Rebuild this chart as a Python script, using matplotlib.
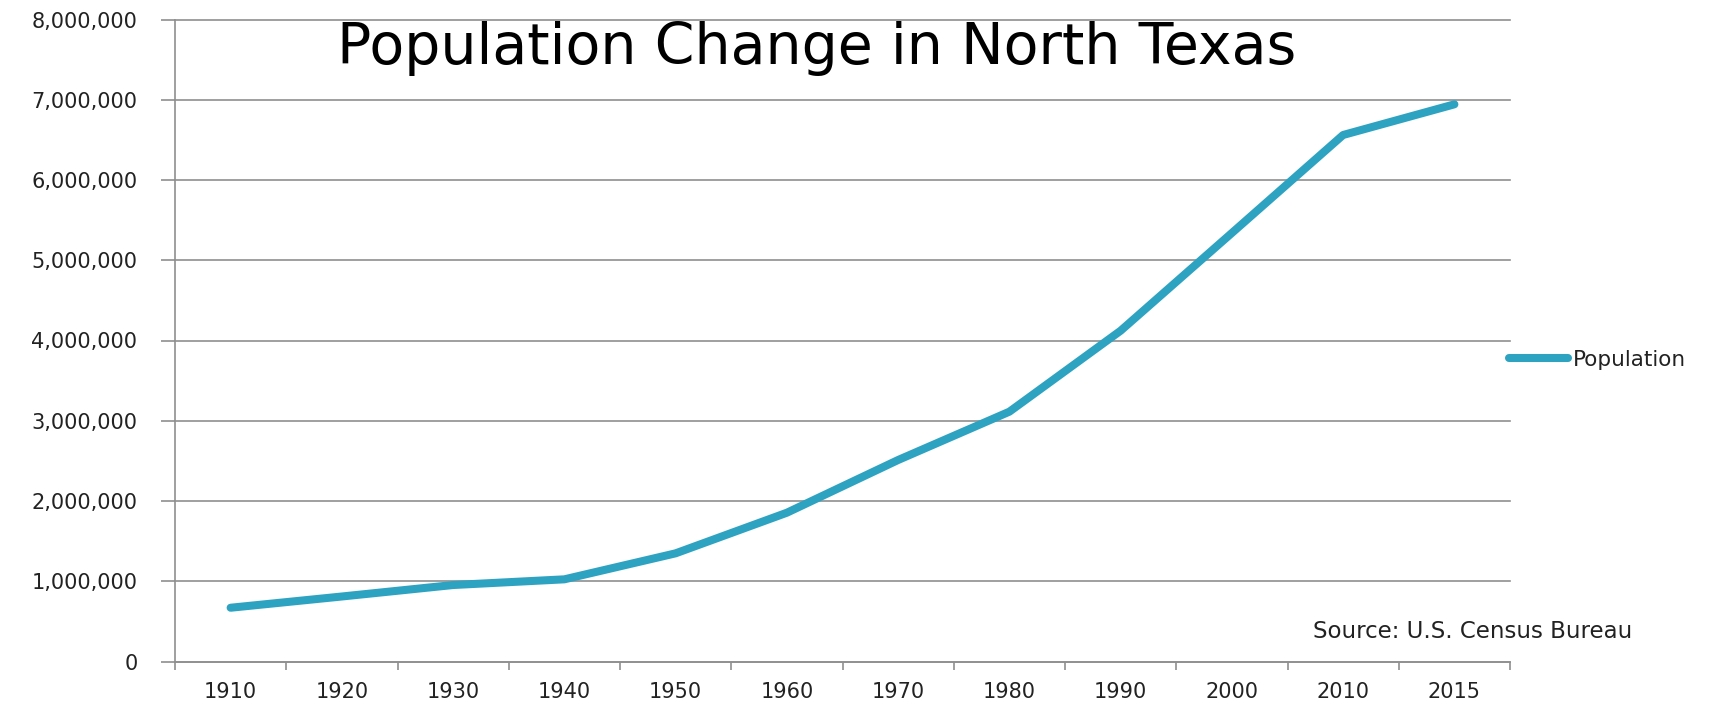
import numpy as np
import matplotlib
matplotlib.use('Agg')
import matplotlib.pyplot as plt
from matplotlib.ticker import FuncFormatter

# ---- data ----
years = ['1910', '1920', '1930', '1940', '1950', '1960', '1970', '1980',
         '1990', '2000', '2010', '2015']
population = [670000, 810000, 953000, 1024000, 1348000, 1854000, 2511000,
              3113000, 4122000, 5340000, 6561000, 6943000]
y_ticks = [0, 1000000, 2000000, 3000000, 4000000, 5000000, 6000000,
           7000000, 8000000]
series_name = 'Population'
title = 'Population Change in North Texas'
source = 'Source: U.S. Census Bureau'

W, H = 1723, 703
fig = plt.figure(figsize=(W / 100, H / 100), dpi=100)
fig.patch.set_facecolor('white')

left, right, bottom, top = 175, 1510, 661.5, 19.5
ax = fig.add_axes([left / W, 1 - bottom / H, (right - left) / W, (bottom - top) / H])

line_color = '#2ea3c1'
grid_color = '#8f8f8f'
text_color = '#222222'

x = np.arange(len(years))
ax.plot(x, population, color=line_color, lw=5.8, solid_capstyle='round',
        solid_joinstyle='round', label=series_name, zorder=3)

ax.set_xlim(-0.5, len(years) - 0.5)
ax.set_ylim(y_ticks[0], y_ticks[-1])
ax.set_yticks(y_ticks)
ax.yaxis.set_major_formatter(FuncFormatter(lambda v, p: f'{int(round(v)):,}'))
ax.set_xticks(x)
ax.set_xticklabels(years)
ax.set_xticks(np.arange(-0.5, len(years)), minor=True)

lab_fs = 15
ax.tick_params(axis='x', which='major', length=0, pad=15, labelsize=lab_fs,
               labelcolor=text_color)
ax.tick_params(axis='x', which='minor', length=6, width=1.2, color=grid_color,
               direction='out')
ax.tick_params(axis='y', which='major', length=10, width=1.2, color=grid_color,
               pad=17, labelsize=lab_fs, labelcolor=text_color)

ax.grid(axis='y', color=grid_color, lw=1.2, zorder=0)
for gl in ax.yaxis.get_gridlines():
    gl.set_clip_on(False)
ax.set_axisbelow(True)
for s in ['top', 'right']:
    ax.spines[s].set_visible(False)
for s in ['left', 'bottom']:
    ax.spines[s].set_color(grid_color)
    ax.spines[s].set_linewidth(1.2)

# title
fig.text(817 / W, 1 - 64 / H, title, ha='center', va='baseline',
         fontsize=41, color='black')

# legend
fs = 15.5
fs_px = fs * 100 / 72
leg = ax.legend(loc='center left', bbox_to_anchor=(1509 / W, 1 - 360 / H),
                bbox_transform=fig.transFigure, frameon=False, fontsize=fs,
                handlelength=59 / fs_px, handletextpad=5 / fs_px,
                borderpad=0, borderaxespad=0)
for t in leg.get_texts():
    t.set_color(text_color)

# source note
fig.text(1473 / W, 1 - 631 / H, source, ha='center', va='center',
         fontsize=16.5, color=text_color)

fig.savefig('out.png', dpi=100, facecolor='white')
